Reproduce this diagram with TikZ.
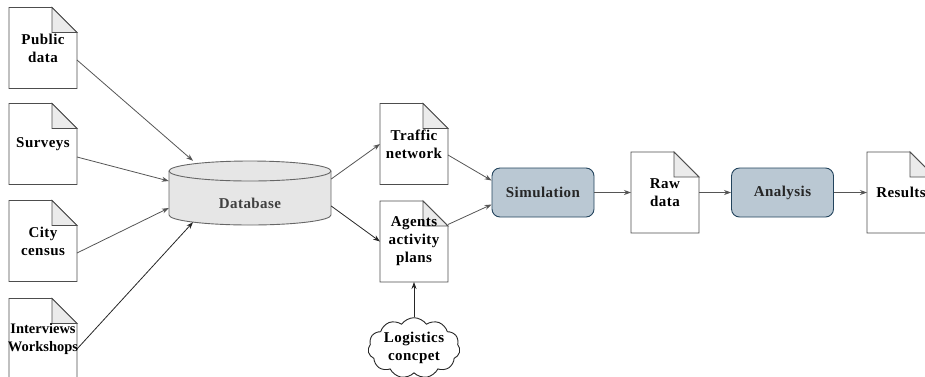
\documentclass[tikz,border=0pt]{standalone}
\usepackage{fontspec}
\setmainfont{Liberation Serif}
\usetikzlibrary{shapes.symbols,backgrounds,arrows.meta}
\definecolor{docline}{HTML}{4D4D4D}
\definecolor{foldgray}{HTML}{EBEBEB}
\definecolor{dbfill}{HTML}{E6E6E6}
\definecolor{dbline}{HTML}{666666}
\definecolor{procfill}{HTML}{BAC8D3}
\definecolor{procline}{HTML}{23445D}
\definecolor{conn}{HTML}{555555}
\newfontfamily\dfont[LetterSpace=3]{Liberation Serif}
\newcommand\docshape[1]{%
  \filldraw[docline, line width=0.9pt, fill=white] ([xshift=-34pt,yshift=40.5pt]#1.center) -- ([xshift=9pt,yshift=40.5pt]#1.center) -- ([xshift=34pt,yshift=15.5pt]#1.center) -- ([xshift=34pt,yshift=-40.5pt]#1.center) -- ([xshift=-34pt,yshift=-40.5pt]#1.center) -- cycle;
  \filldraw[docline, line width=0.9pt, fill=foldgray] ([xshift=9pt,yshift=40.5pt]#1.center) -- ([xshift=9pt,yshift=15.5pt]#1.center) -- ([xshift=34pt,yshift=15.5pt]#1.center) -- cycle;
}
\begin{document}
\begin{tikzpicture}[x=1pt,y=-1pt,
  txt/.style={font=\dfont\fontsize{15}{18}\selectfont\bfseries, text=black, align=center},
  docnode/.style={txt, minimum width=68pt, minimum height=81pt, inner sep=0pt},
  proc/.style={txt, draw=procline, fill=procfill, line width=0.9pt, rounded corners=8pt, minimum width=102pt, minimum height=49pt, text=black!85},
  arr/.style={-{Stealth[length=7pt,width=5pt]}, line width=0.8pt, draw=conn},
  arrd/.style={arr, draw=black!85}]
\useasboundingbox (0,0) rectangle (925,376);
% documents
\node[docnode] (pub) at (43,48) {Public\\data};
\node[docnode] (sur) at (43,144) {Surveys};
\node[docnode] (cen) at (43,241) {City\\census};
\node[docnode, font=\rmfamily\fontsize{14.5}{18}\selectfont\bfseries] (int) at (43,339) {Interviews\\Workshops};
\node[docnode] (traf) at (414,144) {Traffic\\network};
\node[docnode] (agt) at (414,241.5) {Agents\\activity\\plans};
\node[docnode] (raw) at (665,192.5) {Raw\\data};
\node[docnode] (res) at (901,192.5) {Results};
% database
\node[minimum width=162pt, minimum height=64pt, inner sep=0pt] (db) at (250,193) {};
\node[txt, text=black!75] (dblabel) at (250,203) {Database};
% processes
\node[proc] (sim) at (543,192.5) {Simulation};
\node[proc] (ana) at (782.5,192.5) {Analysis};
% cloud
\node[txt, cloud, cloud puffs=11, cloud puff arc=110, aspect=1.7, draw=black!85, line width=0.9pt, fill=white, minimum width=92pt, minimum height=55pt, inner sep=0pt] (cl) at (414,348) {Logistics\\concpet};
\begin{scope}[on background layer]
  \docshape{pub}\docshape{sur}\docshape{cen}\docshape{int}
  \docshape{traf}\docshape{agt}\docshape{raw}\docshape{res}
  \filldraw[dbline, fill=dbfill, line width=0.9pt] (169,171) -- (169,215) arc[start angle=180,end angle=360,x radius=81pt,y radius=10pt] -- (331,171);
  \filldraw[dbline, fill=dbfill, line width=0.9pt] (250,171) ellipse[x radius=81pt, y radius=10pt];
\end{scope}
% connectors
\draw[arr] ([xshift=34pt,yshift=-12pt]pub.center) -- ([xshift=-57pt]db.north);
\draw[arr] ([xshift=34pt,yshift=-13pt]sur.center) -- ([yshift=12pt]db.west);
\draw[arr] ([xshift=34pt,yshift=-12pt]cen.center) -- ([yshift=-15pt]db.west);
\draw[arrd] ([xshift=34pt,yshift=-10pt]int.center) -- ([xshift=-57pt,yshift=3pt]db.south);
\draw[arr] ([yshift=14pt]db.east) -- ([xshift=-34pt]traf.center);
\draw[arrd] ([yshift=-13pt]db.east) -- ([xshift=-34pt]agt.center);
\draw[arr] ([xshift=34pt,yshift=-11pt]traf.center) -- ([yshift=12pt]sim.west);
\draw[arr] ([xshift=34pt,yshift=17pt]agt.center) -- ([yshift=-12pt]sim.west);
\draw[arr] (sim.east) -- ([xshift=-34pt]raw.center);
\draw[arr] ([xshift=34pt]raw.center) -- (ana.west);
\draw[arr] (ana.east) -- ([xshift=-34pt]res.center);
\draw[arrd] (cl.north) -- ([yshift=-40.5pt]agt.center);
\end{tikzpicture}
\end{document}
